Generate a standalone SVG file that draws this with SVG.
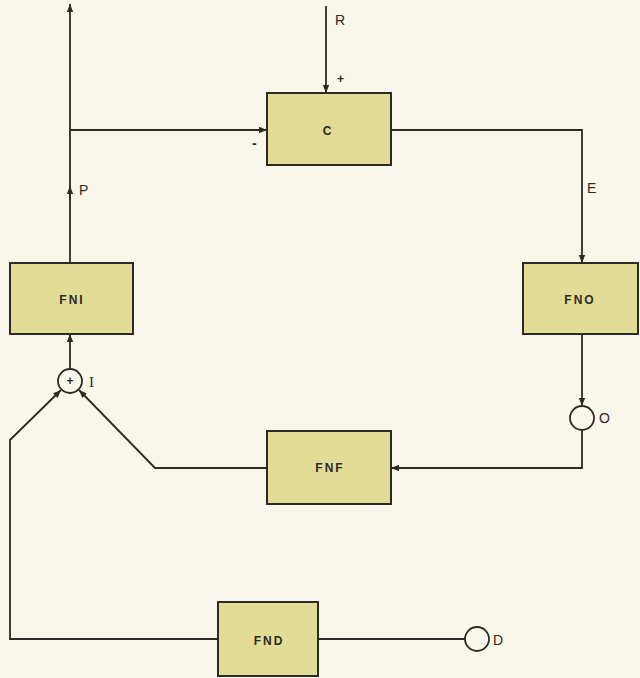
<svg xmlns="http://www.w3.org/2000/svg" width="640" height="678" viewBox="0 0 640 678">
<style>
.box{fill:#e3dc96;stroke:#2b2a24;stroke-width:2}
.ln{fill:none;stroke:#2b2a24;stroke-width:1.8}
.sum{fill:#faf8ee;stroke:#2b2a24;stroke-width:1.8}
.t{font-family:"Liberation Sans",Arial,sans-serif;font-size:12px;font-weight:bold;fill:#2b2a24;letter-spacing:2px;text-anchor:middle;dominant-baseline:central}
.l{font-family:"Liberation Sans",Arial,sans-serif;font-size:14px;fill:#2b2a24}
.s{font-family:"Liberation Serif",serif;font-size:15px;fill:#2b2a24}
</style>
<defs>
<marker id="ah" viewBox="0 0 10 10" refX="10" refY="5" markerWidth="9" markerHeight="8" markerUnits="userSpaceOnUse" orient="auto">
<path d="M0,1 L10,5 L0,9 z" fill="#2b2a24"/>
</marker>
</defs>
<rect width="640" height="678" fill="#f9f6ec"/>
<g id="connectors">
<path class="ln" d="M70,263 V4" marker-end="url(#ah)"/>
<path class="ln" d="M70,200 V186" marker-end="url(#ah)"/>
<path class="ln" d="M70,130 H267" marker-end="url(#ah)"/>
<path class="ln" d="M326,6 V93" marker-end="url(#ah)"/>
<path class="ln" d="M391,130 H582 V263" marker-end="url(#ah)"/>
<path class="ln" d="M582,334 V406" marker-end="url(#ah)"/>
<path class="ln" d="M582,430 V468 H391" marker-end="url(#ah)"/>
<path class="ln" d="M267,468 H155 L79,390" marker-end="url(#ah)"/>
<path class="ln" d="M218,639 H10 V440 L61,390" marker-end="url(#ah)"/>
<path class="ln" d="M70,369 V334" marker-end="url(#ah)"/>
<path class="ln" d="M318,639 H465"/>
</g>
<g id="C"><rect class="box" x="267" y="93" width="124" height="72"/><text class="t" x="328" y="131">C</text></g>
<g id="FNI"><rect class="box" x="10" y="263" width="123" height="71"/><text class="t" x="72" y="300">FNI</text></g>
<g id="FNO"><rect class="box" x="523" y="263" width="115" height="71"/><text class="t" x="580" y="300">FNO</text></g>
<g id="FNF"><rect class="box" x="267" y="431" width="124" height="73"/><text class="t" x="330" y="468">FNF</text></g>
<g id="FND"><rect class="box" x="218" y="602" width="100" height="74"/><text class="t" x="269" y="641">FND</text></g>
<g id="I"><circle class="sum" cx="70" cy="381" r="12"/><text class="t" x="70" y="381" style="letter-spacing:0">+</text><text class="s" x="89" y="387">I</text></g>
<g id="O"><circle class="sum" cx="582" cy="418" r="12"/><text class="l" x="599" y="423">O</text></g>
<g id="D"><circle class="sum" cx="477" cy="639" r="12"/><text class="l" x="493" y="645">D</text></g>
<text class="l" x="335" y="25">R</text>
<text class="l" x="337" y="83" style="font-weight:bold;font-size:12px">+</text>
<text class="l" x="252" y="148" style="font-weight:bold">-</text>
<text class="l" x="79" y="195">P</text>
<text class="l" x="587" y="193">E</text>
</svg>
